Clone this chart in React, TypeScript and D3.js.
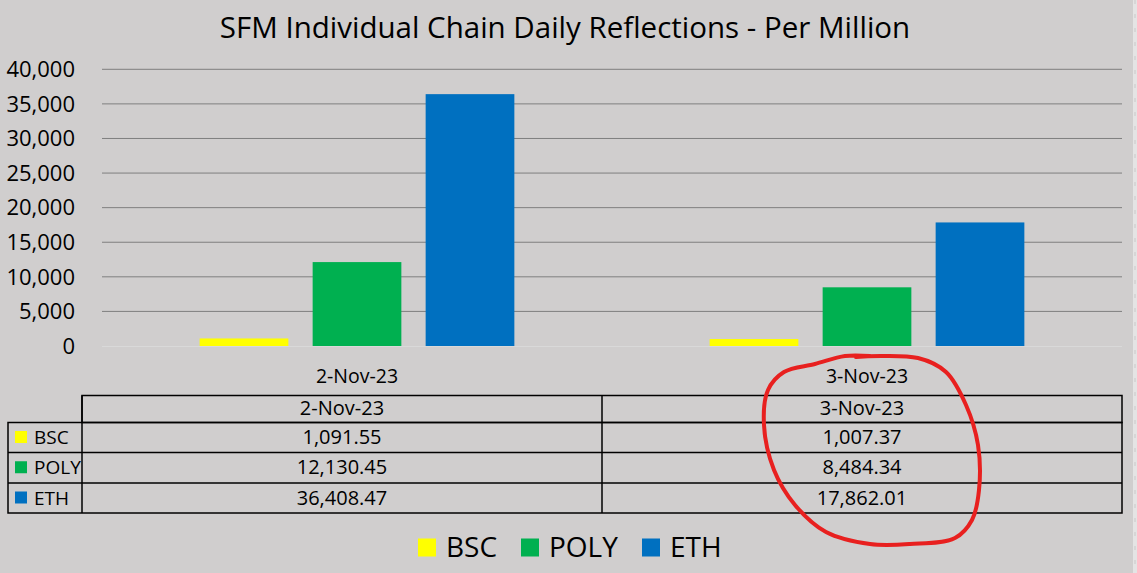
import React, { useEffect, useRef } from "react";
import * as d3 from "d3";

const title = "SFM Individual Chain Daily Reflections - Per Million";
const dates = ["2-Nov-23", "3-Nov-23"];
const series = ["BSC", "POLY", "ETH"];
const bsc = [1091.55, 1007.37];
const poly = [12130.45, 8484.34];
const eth = [36408.47, 17862.01];
const yTicks = [0, 5000, 10000, 15000, 20000, 25000, 30000, 35000, 40000];
const colors = ["#FFFF00", "#00B050", "#0070C0"];

// hand drawn red ring around the 3-Nov column
const ringPoints: [number, number][] = [
  [856, 357], [918, 358], [946, 372], [966, 405], [978, 445], [979, 490],
  [972, 520], [955, 538], [910, 544], [870, 544], [826, 532], [795, 505],
  [774, 470], [764, 425], [768, 390], [784, 372], [815, 364], [845, 356], [870, 356]
];

const W = 1137;
const H = 573;
const FONT = "'Open Sans', sans-serif";

const App = () => {
  const svgRef = useRef<SVGSVGElement | null>(null);

  useEffect(() => {
    const svg = d3.select(svgRef.current);
    svg.selectAll("*").remove();

    const values = [bsc, poly, eth];
    const left = 102;
    const right = 1122;

    svg.append("rect").attr("width", W).attr("height", H).attr("fill", "#D0CECE");
    // sheet edge
    svg.append("rect").attr("x", 1133).attr("width", 4).attr("height", H).attr("fill", "#E4E4E4");
    svg.append("line").attr("x1", 1135).attr("x2", 1135).attr("y1", 0).attr("y2", H)
      .attr("stroke", "#C8C8C8").attr("stroke-dasharray", "4,10");

    svg.append("text")
      .attr("x", 565).attr("y", 37.5)
      .attr("text-anchor", "middle")
      .attr("font-family", FONT).attr("font-size", 29.5).attr("fill", "#000")
      .text(title);

    const y = d3.scaleLinear().domain([0, 40000]).range([346, 69.3]);
    const x0 = d3.scaleBand<string>().domain(dates).range([left, right]);
    const groupW = 314.7;
    const x1 = d3.scaleBand<string>().domain(series).range([0, groupW]).paddingInner(0.215);
    const offset = (x0.bandwidth() - groupW) / 2;

    // gridlines
    svg.append("g").selectAll("line")
      .data(yTicks.filter((d) => d > 0))
      .join("line")
      .attr("x1", left).attr("x2", right)
      .attr("y1", (d) => y(d)).attr("y2", (d) => y(d))
      .attr("stroke", "#7F7F7F").attr("stroke-width", 1);

    svg.append("g").selectAll("text")
      .data(yTicks)
      .join("text")
      .attr("x", 75).attr("y", (d) => y(d) + 7.8)
      .attr("text-anchor", "end")
      .attr("font-family", FONT).attr("font-size", 22).attr("fill", "#000")
      .text((d) => d3.format(",")(d));

    // bars
    const g = svg.append("g");
    series.forEach((s, si) => {
      g.append("g").attr("fill", colors[si]).selectAll("rect")
        .data(dates)
        .join("rect")
        .attr("x", (d) => (x0(d) ?? 0) + offset + (x1(s) ?? 0))
        .attr("width", x1.bandwidth())
        .attr("y", (d, i) => y(values[si][i]))
        .attr("height", (d, i) => y(0) - y(values[si][i]));
    });

    // zero axis
    svg.append("line")
      .attr("x1", left).attr("x2", right).attr("y1", y(0) + 0.5).attr("y2", y(0) + 0.5)
      .attr("stroke", "#D9D9D9").attr("stroke-width", 1);

    svg.append("g").selectAll("text")
      .data(dates)
      .join("text")
      .attr("x", (d) => (x0(d) ?? 0) + x0.bandwidth() / 2)
      .attr("y", 382.5)
      .attr("text-anchor", "middle")
      .attr("font-family", FONT).attr("font-size", 19.5).attr("fill", "#000")
      .text((d) => d);

    // data table
    const tLeft = 8;
    const tLabel = 82;
    const tCol = d3.scaleBand<string>().domain(dates).range([tLabel, right]);
    const rowY = [395.5, 422.5, 452.5, 483, 513];
    const tbl = svg.append("g").attr("stroke", "#000").attr("stroke-width", 1.5).attr("fill", "none");
    // header row
    tbl.append("rect").attr("x", tLabel).attr("y", rowY[0]).attr("width", right - tLabel).attr("height", rowY[1] - rowY[0]);
    tbl.append("rect").attr("x", tLeft).attr("y", rowY[1]).attr("width", right - tLeft).attr("height", rowY[4] - rowY[1]);
    [2, 3].forEach((r) => {
      tbl.append("line").attr("x1", tLeft).attr("x2", right).attr("y1", rowY[r]).attr("y2", rowY[r]);
    });
    tbl.append("line").attr("x1", tLabel).attr("x2", tLabel).attr("y1", rowY[0]).attr("y2", rowY[4]);
    tbl.append("line")
      .attr("x1", tCol(dates[1]) ?? 0).attr("x2", tCol(dates[1]) ?? 0)
      .attr("y1", rowY[0]).attr("y2", rowY[4]);

    const txt = svg.append("g").attr("font-family", FONT).attr("font-size", 20).attr("fill", "#000");
    dates.forEach((d, di) => {
      const cx = (tCol(d) ?? 0) + tCol.bandwidth() / 2;
      txt.append("text").attr("x", cx).attr("y", rowY[0] + 19.5).attr("text-anchor", "middle").text(d);
      series.forEach((s, si) => {
        txt.append("text")
          .attr("x", cx).attr("y", rowY[si + 1] + 21.5)
          .attr("text-anchor", "middle")
          .text(d3.format(",.2f")(values[si][di]));
      });
    });
    series.forEach((s, si) => {
      const top = rowY[si + 1];
      const mid = (top + rowY[si + 2]) / 2;
      txt.append("rect").attr("x", 15).attr("y", mid - 6.5).attr("width", 12).attr("height", 12).attr("fill", colors[si]);
      txt.append("text").attr("x", 34).attr("y", top + 21.5).attr("font-size", 19).text(s);
    });

    // legend
    const legX = [418, 521, 642];
    const leg = svg.append("g").attr("font-family", FONT).attr("font-size", 28).attr("fill", "#000");
    series.forEach((s, si) => {
      leg.append("rect").attr("x", legX[si]).attr("y", 538.5).attr("width", 18).attr("height", 18).attr("fill", colors[si]);
      leg.append("text").attr("x", legX[si] + 28).attr("y", 556.5).text(s);
    });

    // red ring annotation
    svg.append("path")
      .attr("d", d3.line().curve(d3.curveCatmullRom)(ringPoints))
      .attr("fill", "none")
      .attr("stroke", "#E8201F")
      .attr("stroke-width", 4)
      .attr("stroke-linecap", "round");
  }, []);

  return (
    <svg
      ref={svgRef}
      width={W}
      height={H}
      style={{ position: "absolute", top: 0, left: 0, display: "block" }}
    />
  );
};

export default App;
